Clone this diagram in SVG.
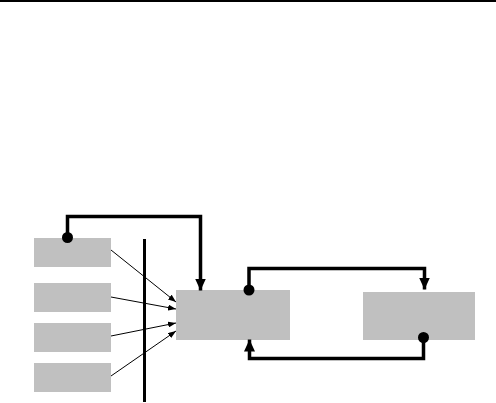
<svg xmlns="http://www.w3.org/2000/svg" width="496" height="403" viewBox="0 0 496 403">
<style>
.box{fill:#c0c0c0;stroke:none}
.thick{fill:none;stroke:#000;stroke-width:3.5}
.thin{fill:none;stroke:#000;stroke-width:1}
.dot{fill:#000}
</style>
<defs>
<marker id="bigArrow" markerWidth="12" markerHeight="11" refX="12" refY="5.5" orient="auto" markerUnits="userSpaceOnUse">
<path d="M0,0 L12,5.5 L0,11 Z" fill="#000"/>
</marker>
<marker id="smallArrow" markerWidth="8" markerHeight="6" refX="8" refY="3" orient="auto" markerUnits="userSpaceOnUse">
<path d="M0,0 L8,3 L0,6 Z" fill="#000"/>
</marker>
</defs>
<rect x="0" y="0" width="496" height="2" fill="#000"/>
<g id="src1"><rect class="box" x="34" y="238" width="77" height="29"/></g>
<g id="src2"><rect class="box" x="34" y="283" width="77" height="29"/></g>
<g id="src3"><rect class="box" x="34" y="323" width="77" height="29"/></g>
<g id="src4"><rect class="box" x="34" y="363" width="77" height="29"/></g>
<g id="barrier"><rect x="143" y="239" width="3" height="163" fill="#000"/></g>
<g id="nodeA"><rect class="box" x="176" y="290" width="114" height="50"/></g>
<g id="nodeB"><rect class="box" x="363" y="292" width="112" height="48"/></g>
<g id="connectors">
<line class="thin" x1="111" y1="250" x2="176" y2="302" marker-end="url(#smallArrow)"/>
<line class="thin" x1="111" y1="297" x2="176" y2="309" marker-end="url(#smallArrow)"/>
<line class="thin" x1="111" y1="336" x2="176" y2="323" marker-end="url(#smallArrow)"/>
<line class="thin" x1="111" y1="376" x2="176" y2="331" marker-end="url(#smallArrow)"/>
<circle class="dot" cx="67.5" cy="237.5" r="5.5"/>
<path class="thick" d="M67.5,237.5 V216.5 H200.5 V290.5" marker-end="url(#bigArrow)"/>
<circle class="dot" cx="249" cy="290" r="5.5"/>
<path class="thick" d="M249,290 V268.5 H424.5 V289.5" marker-end="url(#bigArrow)"/>
<circle class="dot" cx="423.5" cy="337.5" r="5.5"/>
<path class="thick" d="M423.5,337.5 V358.5 H249.5 V339.5" marker-end="url(#bigArrow)"/>
</g>
</svg>
